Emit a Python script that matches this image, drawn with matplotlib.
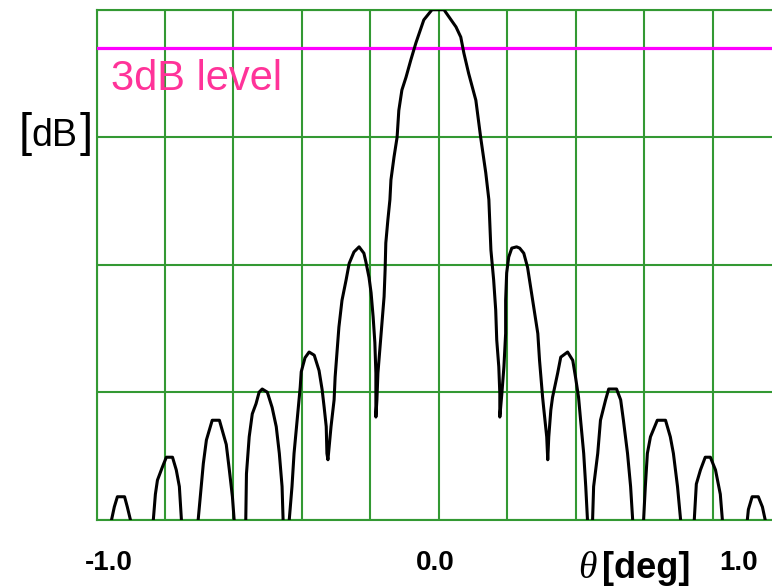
import numpy as np
import matplotlib
matplotlib.use("Agg")
import matplotlib.pyplot as plt

# Antenna pattern: gain (dB) versus off-boresight angle (deg).
# Nulls that fall below the -40 dB floor are listed at -46 dB.
theta_deg = [
    -0.956, -0.948, -0.939, -0.918, -0.910, -0.901,
    -0.868,
    -0.834, -0.828, -0.822, -0.808, -0.796, -0.778, -0.767, -0.758, -0.752,
    -0.728,
    -0.703, -0.694, -0.688, -0.679, -0.662, -0.641, -0.621, -0.612, -0.603, -0.598,
    -0.580,
    -0.564, -0.562, -0.554, -0.545, -0.534, -0.525, -0.516, -0.501, -0.487, -0.475,
    -0.466, -0.458, -0.455,
    -0.446,
    -0.437, -0.429, -0.423, -0.414, -0.405, -0.402, -0.391, -0.379, -0.364, -0.350,
    -0.341, -0.335, -0.329, -0.327, -0.324,
    -0.315, -0.306, -0.303, -0.297, -0.292, -0.283, -0.271, -0.262, -0.248, -0.233,
    -0.219, -0.213, -0.204, -0.198, -0.192, -0.187, -0.184, -0.184, -0.184,
    -0.181, -0.178, -0.172, -0.166, -0.160, -0.157, -0.155, -0.149, -0.143, -0.140,
    -0.131, -0.122, -0.117, -0.108, -0.096, -0.082, -0.067, -0.044, -0.020, 0.000,
    0.015, 0.020, 0.050, 0.064, 0.073, 0.087, 0.108, 0.122, 0.137, 0.146, 0.152,
    0.160, 0.166, 0.169, 0.175, 0.178, 0.178,
    0.184, 0.190, 0.195, 0.195, 0.198, 0.204, 0.213, 0.227, 0.236, 0.248, 0.259,
    0.268, 0.277, 0.289, 0.294, 0.303, 0.306, 0.315, 0.318,
    0.321, 0.327, 0.332, 0.347, 0.356, 0.376, 0.391, 0.399, 0.408, 0.414, 0.423,
    0.429, 0.434,
    0.442,
    0.449, 0.452, 0.464, 0.472, 0.487, 0.496, 0.519, 0.531, 0.539, 0.551, 0.560, 0.566,
    0.582,
    0.598, 0.603, 0.609, 0.618, 0.638, 0.662, 0.676, 0.685, 0.697, 0.706,
    0.726,
    0.746, 0.752, 0.764, 0.778, 0.793, 0.808, 0.822, 0.828,
    0.865,
    0.901, 0.904, 0.915, 0.933, 0.945, 0.953,
]

gain_db = [
    -40.0, -39.0, -38.2, -38.2, -39.0, -40.0,
    -46.0,
    -40.0, -38.0, -36.9, -35.9, -35.1, -35.1, -36.1, -37.4, -40.0,
    -46.0,
    -40.0, -37.4, -35.6, -33.75, -32.2, -32.2, -34.1, -36.1, -38.2, -40.0,
    -46.0,
    -40.0, -36.4, -33.5, -31.7, -30.9, -30.0, -29.75, -30.0, -31.2, -32.7,
    -34.8, -37.4, -40.0,
    -46.0,
    -40.0, -37.4, -34.8, -32.2, -29.6, -28.4, -27.3, -26.85, -27.1, -28.3,
    -29.8, -31.2, -32.7, -34.8, -35.3,
    -32.7, -30.6, -28.8, -26.7, -24.9, -22.8, -21.2, -19.9, -19.0, -18.6,
    -19.1, -19.8, -21.0, -22.2, -24.1, -26.1, -28.5, -30.6, -31.95,
    -30.6, -28.5, -26.5, -24.6, -22.5, -20.4, -18.3, -16.5, -14.9, -13.35,
    -11.55, -10.0, -7.9, -6.3, -5.3, -3.95, -2.6, -0.8, 0.0, 0.0,
    0.0, -0.2, -1.35, -2.15, -3.4, -5.0, -7.1, -10.0, -12.8, -14.9, -18.85,
    -21.2, -23.55, -25.9, -28.0, -30.1, -31.95,
    -30.1, -28.0, -25.4, -22.8, -20.65, -19.4, -18.7, -18.6, -18.7, -19.1, -20.2,
    -21.75, -23.3, -25.4, -27.5, -30.4, -31.2, -33.5, -35.3,
    -33.5, -31.4, -30.4, -28.5, -27.25, -26.85, -27.5, -28.8, -30.4, -32.2, -34.8,
    -37.4, -40.0,
    -46.0,
    -40.0, -37.4, -34.8, -32.2, -30.6, -29.75, -29.75, -30.6, -32.2, -34.8, -37.4, -40.0,
    -46.0,
    -40.0, -37.4, -34.8, -33.5, -32.2, -32.2, -33.5, -34.8, -37.4, -40.0,
    -46.0,
    -40.0, -37.2, -36.1, -35.1, -35.1, -36.1, -38.0, -40.0,
    -46.0,
    -40.0, -39.2, -38.2, -38.2, -39.0, -40.0,
]

half_power_db = -3.0
half_power_label = "3dB level"
xtick_labels = ["-1.0", "0.0", "1.0"]
x_grid = np.round(np.arange(-1.0, 1.01, 0.2), 1)
y_grid = [-40, -30, -20, -10, 0]

W, H = 772, 587
fig = plt.figure(figsize=(W / 100, H / 100), dpi=100)
fig.patch.set_facecolor("white")

left_px, right_px, top_px, bottom_px = 96.5, 772.0, 9.7, 519.7
ax = fig.add_axes([left_px / W, 1 - bottom_px / H,
                   (right_px - left_px) / W, (bottom_px - top_px) / H])

grid_green = "#339933"
ax.set_xticks(x_grid)
ax.set_yticks(y_grid)
# limits set after the ticks so the 1.0 grid line does not widen the view
ax.set_xlim(-1.0, 0.973)
ax.set_ylim(-40, 0)
ax.grid(True, color=grid_green, linewidth=1.5)
ax.tick_params(length=0, labelbottom=False, labelleft=False)
for side in ("left", "bottom", "top"):
    ax.spines[side].set_color(grid_green)
    ax.spines[side].set_linewidth(1.5)
ax.spines["right"].set_visible(False)
ax.set_axisbelow(True)

ax.axhline(half_power_db, color="#ff00ff", linewidth=2.3, zorder=3)
ax.plot(theta_deg, gain_db, color="black", linewidth=2.2,
        solid_joinstyle="round", zorder=4)

def fx(px):
    return px / W

def fy(py):
    return 1 - py / H

sans = "Liberation Sans"
fig.text(fx(111), fy(90), half_power_label, color="#ff3399",
         fontsize=30, family=sans, ha="left", va="baseline")

# y-axis unit label, large brackets around smaller text
fig.text(fx(19), fy(146), "[", fontsize=34, family=sans, ha="left", va="baseline")
fig.text(fx(31), fy(146), "dB", fontsize=27, family=sans, ha="left", va="baseline")
fig.text(fx(80), fy(146), "]", fontsize=34, family=sans, ha="left", va="baseline")

# x-axis labels
for lbl, cx in zip(xtick_labels, [109, 435, 739]):
    fig.text(fx(cx), fy(570), lbl, fontsize=20, family=sans, weight="bold",
             ha="center", va="baseline")

fig.text(fx(578), fy(578), "\u03b8", fontsize=27, family="Liberation Serif",
         style="italic", ha="left", va="baseline")
fig.text(fx(602), fy(578), "[deg]", fontsize=26, family=sans, weight="bold",
         ha="left", va="baseline")

fig.savefig("out.png", dpi=100)
